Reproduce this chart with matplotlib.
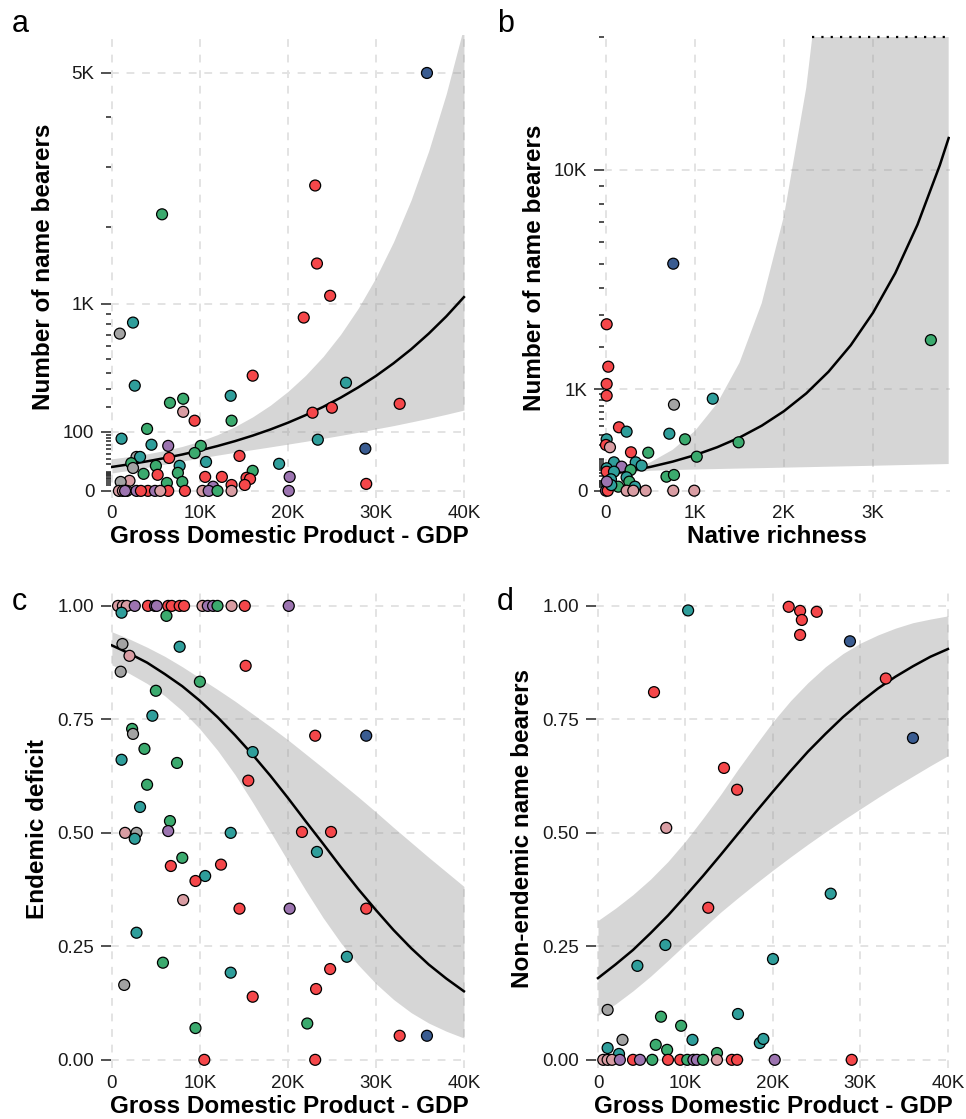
import numpy as np
import matplotlib
matplotlib.use('Agg')
import matplotlib.pyplot as plt
from matplotlib.ticker import FixedLocator, FixedFormatter

plt.rcParams['font.family'] = ['Liberation Sans', 'DejaVu Sans']

PAL = {'r': '#F5474A', 'g': '#3BAA6E', 't': '#2F9E9B', 'p': '#D99DA3',
       'u': '#9C74B0', 'y': '#A3A3A3', 'n': '#3A5C91'}

# ---------------- panel a : GDP (K) vs name bearers ----------------
a_x = [35.8, 5.7, 23.1, 23.3, 24.8, 21.8, 0.9, 2.4, 2.6, 8.1, 16.0, 13.5, 26.6, 32.7,
       28.8, 28.9, 6.6, 8.1, 9.4, 13.6, 4.0, 1.1, 4.5, 6.4, 10.1, 9.4, 14.5, 2.8, 3.2,
       6.5, 10.7, 2.2, 2.4, 5.0, 7.7, 19.0, 16.0, 7.5, 3.6, 5.2, 10.6, 12.5, 15.3, 15.7,
       15.1, 20.2, 6.25, 8.0, 13.6, 11.5, 2.0, 1.0, 22.8, 25.0, 23.4,
       0.8, 1.25, 1.7, 2.8, 4.1, 4.9, 6.4, 8.3, 10.3, 11.0, 12.0, 13.6, 20.1, 1.5, 3.3, 5.5]
a_y = [5000, 2190, 2670, 1480, 1090, 860, 708, 811, 317, 243, 380, 259, 335, 217,
       51, 1.4, 222, 179, 141, 141, 110, 78, 61, 58, 58, 41, 35, 33, 33,
       31, 24, 22, 15, 18, 18, 21, 11.5, 9.3, 8.3, 7.4, 5.6, 5.6, 4.9, 4.1,
       1, 5.6, 1.8, 2.3, 1, 0.5, 2.9, 2.3, 175, 198, 75,
       0, 0, 0, 0, 0, 0, 0, 0, 0, 0, 0, 0, 0, 0, 0, 0]
a_c = list('ngrrrryttgrttr' 'nrgprggttuggryt' 'rtgygttgggrrrrr' 'ruggrupyrrt'
           'pppururrpugpuurp')

a_fit_x = [0, 2, 4, 6, 8, 10, 12, 14, 16, 18, 20, 22, 24, 26, 28, 30, 32, 34, 36, 38, 40]
a_fit = [16.4, 20.3, 25.0, 30.8, 37.9, 46.8, 57.6, 71.0, 87.5, 107.9, 133, 164, 202, 249,
         307, 378, 466, 574, 708, 872, 1075]
a_lo = [9.2, 12.1, 15.9, 20.3, 25.4, 30.9, 36.6, 42.6, 48.8, 55.4, 62.6, 70.3, 78.9, 88.2,
        98.4, 110, 122, 136, 151, 168, 187]
a_hi = [29.5, 33.8, 39.3, 46.6, 56.6, 70.7, 90.6, 118.5, 157, 210, 283, 382, 517, 703,
        956, 1302, 1775, 2423, 3310, 4520, 6180]

# ---------------- panel b : native richness (K) vs name bearers ----------------
b_x = [0.756, 3.65, 0.008, 0.026, 0.008, 0.008, 0.764, 1.2, 0.146, 0.232, 0.712, 0.888,
       1.49, 0.008, 0.0, 0.045, 0.281, 0.475, 1.02, 0.09, 0.334, 0.401, 0.176, 0.277,
       0.008, 0.008, 0.09, 0.68, 0.764, 0.056, 0.232, 0.262, 0.138, 0.326,
       0.0, 0.232, 0.307, 0.446, 0.756, 0.992, 0.02, 0.06, 0.01]
b_y = [5000, 2200, 2687, 1492, 1105, 876, 718, 821, 390, 338, 315, 256,
       227, 256, 203, 183, 143, 140, 112, 78, 78, 61, 56, 41.6,
       48.7, 35, 35, 19, 24, 12.6, 17.4, 7.9, 1.55, 1.55,
       0, 0, 0, 0, 0, 0, 0, 3, 8]
b_c = list('ngrrrrytrttg' 'gtrprggtttug' 'trtggttggt' 'uppppprtu')

b_fit_x = [0, 0.25, 0.5, 0.75, 1.0, 1.25, 1.5, 1.75, 2.0, 2.25, 2.5, 2.75, 3.0, 3.25,
           3.5, 3.75, 3.85]
b_fit = [24.5, 36.7, 54.9, 82.1, 122.7, 183.5, 274, 410, 614, 918, 1373, 2053, 3071,
         4592, 6868, 10270, 12070]
b_lo = [15.2, 29.8, 38.6, 41.4, 43.5, 45.5, 47.5, 49.4, 51.5, 53.6, 55.8, 58.0, 60.3,
        62.8, 65.3, 67.9, 69.0]
b_hi = [39.6, 45.2, 78.0, 162.5, 346, 741, 1588, 3412, 7326, 15740, 33840, 72800,
        156500, 336500, 724000, 1557000, 2114000]

# ---------------- panel c : GDP (K) vs endemic deficit ----------------
c_x = [0.7, 1.25, 1.7, 2.6, 4.1, 4.9, 5.1, 6.4, 6.8, 7.7, 8.2, 10.3, 10.9, 11.5, 12.0, 13.6,
       15.1, 20.1, 1.1, 6.2, 1.2, 7.7, 2.0, 1.0, 15.2, 10.0, 5.0, 4.6, 2.3, 2.4, 3.7, 1.1,
       7.4, 15.5, 4.0, 3.2, 6.6, 6.4, 1.5, 2.8, 13.5, 2.6, 28.9, 23.1, 16.0, 6.7, 8.0, 12.4,
       10.6, 9.5, 21.6, 24.9, 23.3, 14.5, 20.2, 28.9, 8.1, 26.7, 24.8, 9.5, 22.2, 2.8, 5.8,
       13.5, 1.4, 16.0, 23.2, 10.5, 23.1, 32.7, 35.8]
c_y = [1, 1, 1, 1, 1, 1, 1, 1, 1, 1, 1, 1, 1, 1, 1, 1,
       1, 1, 0.985, 0.978, 0.916, 0.91, 0.89, 0.855, 0.868, 0.833, 0.813, 0.758, 0.729, 0.718,
       0.685, 0.661, 0.654, 0.615, 0.606, 0.557, 0.526, 0.504, 0.5, 0.5, 0.5, 0.487, 0.714,
       0.714, 0.678, 0.427, 0.445, 0.43, 0.405, 0.394, 0.502, 0.502, 0.458, 0.333, 0.333,
       0.333, 0.352, 0.227, 0.2, 0.07, 0.08, 0.28, 0.214, 0.192, 0.165, 0.139, 0.156, 0.0,
       0.0, 0.053, 0.053]
c_c = list('pppuruurrrrpuugp' 'rutgytpyrggtgygt' 'grgtgupyttnrtrgr' 'trrrtrurptrggtg'
           'tyrrrrrn')

c_fit_x = [0, 2, 4, 6, 8, 10, 12, 14, 16, 18, 20, 22, 24, 26, 28, 30, 32, 34, 36, 38, 40]
c_fit = [0.913, 0.895, 0.875, 0.850, 0.823, 0.791, 0.755, 0.715, 0.672, 0.626, 0.577,
         0.526, 0.476, 0.425, 0.376, 0.330, 0.286, 0.246, 0.210, 0.179, 0.151]
c_lo = [0.870, 0.851, 0.829, 0.802, 0.769, 0.729, 0.682, 0.628, 0.567, 0.503, 0.438,
        0.374, 0.313, 0.258, 0.209, 0.168, 0.133, 0.104, 0.081, 0.063, 0.048]
c_hi = [0.943, 0.927, 0.909, 0.889, 0.866, 0.841, 0.816, 0.790, 0.762, 0.734, 0.705,
        0.674, 0.643, 0.611, 0.579, 0.546, 0.512, 0.479, 0.446, 0.414, 0.382]

# ---------------- panel d : GDP (K) vs non-endemic name bearers ----------------
d_x = [10.3, 21.8, 23.1, 23.3, 23.1, 25.0, 28.8, 32.9, 36.0, 6.4, 14.4, 15.9, 7.8, 12.6,
       26.6, 7.7, 4.5, 20.0, 1.1, 16.0, 7.2, 9.5, 18.5, 1.1, 2.8, 6.6, 7.9, 10.8, 18.9, 13.6,
       2.4, 0.6, 1.1, 1.6, 2.5, 4.0, 4.8, 6.2, 8.0, 9.4, 10.2, 10.9, 11.3, 12.0, 13.6, 15.3,
       15.9, 20.2, 29.0]
d_y = [0.99, 0.998, 0.989, 0.969, 0.936, 0.987, 0.922, 0.84, 0.709, 0.81, 0.643, 0.595,
       0.511, 0.335, 0.366, 0.253, 0.207, 0.222, 0.11, 0.101, 0.095, 0.075, 0.037, 0.026,
       0.044, 0.033, 0.022, 0.044, 0.046, 0.015, 0.013, 0, 0, 0, 0, 0, 0, 0, 0, 0, 0, 0, 0,
       0, 0, 0, 0, 0, 0]
d_c = list('trrrrrnrnrrrpr' 'ttttytggttyggttg' 'tpppurugrrguugprrur')

d_fit_x = [0, 2, 4, 6, 8, 10, 12, 14, 16, 18, 20, 22, 24, 26, 28, 30, 32, 34, 36, 38, 40]
d_fit = [0.180, 0.210, 0.242, 0.279, 0.318, 0.361, 0.405, 0.451, 0.498, 0.545, 0.591,
         0.636, 0.679, 0.718, 0.755, 0.788, 0.818, 0.844, 0.867, 0.888, 0.905]
d_lo = [0.098, 0.123, 0.152, 0.184, 0.219, 0.255, 0.290, 0.325, 0.357, 0.388, 0.418,
        0.447, 0.475, 0.502, 0.528, 0.553, 0.578, 0.602, 0.625, 0.648, 0.670]
d_hi = [0.307, 0.334, 0.364, 0.398, 0.437, 0.482, 0.532, 0.584, 0.640, 0.693, 0.745,
        0.791, 0.831, 0.866, 0.895, 0.918, 0.936, 0.951, 0.963, 0.971, 0.978]

# ---------------- labels ----------------
GDP_LABEL = 'Gross Domestic Product - GDP'
gdp_ticks = [0, 10, 20, 30, 40]
gdp_labels = ['0', '10K', '20K', '30K', '40K']
rich_ticks = [0, 1, 2, 3]
rich_labels = ['0', '1K', '2K', '3K']
a_yticks = [0, 100, 1000, 5000]
a_ylabels = ['0', '100', '1K', '5K']
b_yticks = [0, 1000, 10000]
b_ylabels = ['0', '1K', '10K']
p_yticks = [0, 0.25, 0.5, 0.75, 1.0]
p_ylabels = ['0.00', '0.25', '0.50', '0.75', '1.00']

# ---------------- figure ----------------
W, H = 966, 1119
fig = plt.figure(figsize=(W / 100, H / 100), dpi=100)


def ax_at(l, t, r, b):
    return fig.add_axes([l / W, 1 - b / H, (r - l) / W, (b - t) / H])


def fwd(v):
    v = np.asarray(v, dtype=float)
    return np.sign(v) * np.sqrt(np.abs(v))


def inv(v):
    v = np.asarray(v, dtype=float)
    return np.sign(v) * v ** 2


def minor_breaks(top):
    out = []
    for dec in [1, 10, 100, 1000, 10000]:
        for k in range(1, 10):
            v = k * dec
            if v <= top:
                out.append(v)
    return out


def style(ax, xt, xl, yt, yl, ylab, xlab):
    for s in ax.spines.values():
        s.set_visible(False)
    ax.set_axisbelow(True)
    ax.grid(True, which='major', ls=(0, (4, 4)), color='#E3E3E3', lw=1.4)
    ax.xaxis.set_major_locator(FixedLocator(xt))
    ax.xaxis.set_major_formatter(FixedFormatter(xl))
    ax.yaxis.set_major_locator(FixedLocator(yt))
    ax.yaxis.set_major_formatter(FixedFormatter(yl))
    ax.tick_params(axis='x', which='both', length=0, pad=5, labelsize=13.5,
                   labelcolor='#1a1a1a')
    ax.tick_params(axis='y', which='major', length=7, width=1.2, color='#333333',
                   pad=5, labelsize=13.5, labelcolor='#1a1a1a')
    ax.tick_params(axis='y', which='minor', length=3.5, width=1.2, color='#333333')
    ax.set_xlabel(xlab, fontsize=17.5, fontweight='bold', labelpad=2)
    ax.set_ylabel(ylab, fontsize=17.5, fontweight='bold', labelpad=6)


def draw(ax, x, y, c, fx, fy, lo, hi):
    assert len(x) == len(y) == len(c), (len(x), len(y), len(c))
    ax.fill_between(fx, lo, hi, color='#999999', alpha=0.4, lw=0, zorder=1.5)
    ax.plot(fx, fy, color='black', lw=1.8, zorder=2)
    ax.scatter(x, y, s=62, c=[PAL[k] for k in c], edgecolors='black', linewidths=0.9,
               zorder=3, clip_on=False)


# panel a
axA = ax_at(111, 35, 467, 498)
axA.set_yscale('function', functions=(fwd, inv))
draw(axA, a_x, a_y, a_c, a_fit_x, a_fit, a_lo, a_hi)
axA.set_xlim(-0.1, 40.35)
axA.set_ylim(-1.45, 5950)
style(axA, gdp_ticks, gdp_labels, a_yticks, a_ylabels, 'Number of name bearers', GDP_LABEL)
axA.yaxis.set_minor_locator(FixedLocator([v for v in minor_breaks(5950) if v not in a_yticks]))
axA.yaxis.set_minor_formatter(FixedFormatter([]))

# panel b
axB = ax_at(604, 36.7, 950, 498)
axB.set_yscale('function', functions=(fwd, inv))
draw(axB, b_x, b_y, b_c, b_fit_x, b_fit, b_lo, b_hi)
axB.set_xlim(-0.022, 3.865)
axB.set_ylim(-5.2, 20000)
style(axB, rich_ticks, rich_labels, b_yticks, b_ylabels, 'Number of name bearers',
      'Native richness')
axB.yaxis.set_minor_locator(FixedLocator([v for v in minor_breaks(20000) if v not in b_yticks]))
axB.yaxis.set_minor_formatter(FixedFormatter([]))
# dotted line where the upper band is clipped at the top of the panel
top = 20000
sx = np.asarray(b_fit_x)
shi = fwd(b_hi)
xc = float(np.interp(fwd(top), shi, sx))
axB.plot([xc, b_fit_x[-1]], [top, top], color='black', lw=1.6, ls=(0, (1, 3.2)),
         zorder=2.5, clip_on=False)

# panel c
axC = ax_at(111, 590, 467, 1068)
draw(axC, c_x, c_y, c_c, c_fit_x, c_fit, c_lo, c_hi)
axC.set_xlim(-0.1, 40.35)
axC.set_ylim(-0.018, 1.035)
style(axC, gdp_ticks, gdp_labels, p_yticks, p_ylabels, 'Endemic deficit', GDP_LABEL)

# panel d
axD = ax_at(596, 590, 951, 1068)
draw(axD, d_x, d_y, d_c, d_fit_x, d_fit, d_lo, d_hi)
axD.set_xlim(-0.23, 40.35)
axD.set_ylim(-0.018, 1.035)
style(axD, gdp_ticks, gdp_labels, p_yticks, p_ylabels, 'Non-endemic name bearers', GDP_LABEL)

for lab, (px, py) in zip('abcd', [(12, 32), (497, 32), (12, 610), (497, 610)]):
    fig.text(px / W, 1 - py / H, lab, fontsize=22, ha='left', va='baseline')

fig.savefig('out.png', dpi=100)
